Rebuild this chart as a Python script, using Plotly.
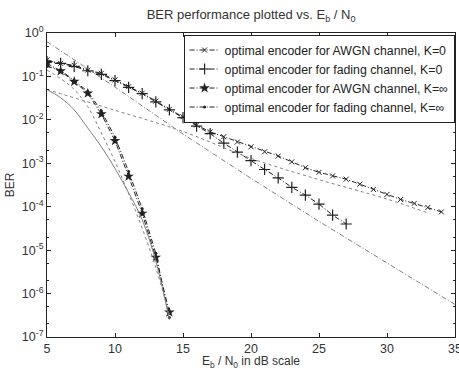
import plotly.graph_objects as go

# ---- data ----
snr_awgn_k0 = list(range(5, 35))
ber_awgn_k0 = [0.24, 0.2, 0.18, 0.14, 0.118, 0.083, 0.058, 0.041, 0.027, 0.0175,
               0.0118, 0.0076, 0.0053, 0.0041, 0.0031, 0.0024, 0.00184, 0.00147, 0.00108, 0.00079,
               0.00062, 0.00051, 0.00043, 0.00033, 0.00025, 0.000192, 0.000147, 0.000119, 0.000096, 0.000076]

snr_fad_k0 = list(range(5, 28))
ber_fad_k0 = [0.22, 0.2, 0.17, 0.135, 0.112, 0.08, 0.056, 0.04, 0.026, 0.017,
              0.0112, 0.0072, 0.0048, 0.0029, 0.0018, 0.00115, 0.00072, 0.00046, 0.00028, 0.000185,
              0.000115, 0.000064, 0.00004]

snr_inf = list(range(5, 15))
ber_awgn_kinf = [0.2, 0.133, 0.076, 0.041, 0.0136, 0.0033, 5.0e-4, 7.0e-5, 6.8e-6, 3.7e-7]
ber_fad_kinf = [0.17, 0.14, 0.08, 0.045, 0.016, 4.0e-3, 6.5e-4, 9e-5, 8.5e-6, 2.8e-7]

# reference (unlabelled) curves
snr_ref_a = [5, 10, 15, 20, 25, 30, 35]
ber_ref_a = [0.63, 0.057, 4.7e-3, 4.5e-4, 4.6e-5, 5e-6, 5.6e-7]
snr_ref_b = [5, 10, 15, 20, 25, 30, 33]
ber_ref_b = [0.05, 0.0166, 5.4e-3, 1.3e-3, 4.2e-4, 1.5e-4, 7.2e-5]
snr_ref_c = list(range(5, 15))
ber_ref_c = [0.05, 0.0324, 0.017, 0.00646, 0.0024, 7.6e-4, 2.1e-4, 5.0e-5, 5.6e-6, 2.5e-7]
snr_ref_d = list(range(5, 15))
ber_ref_d = [0.14, 0.089, 0.05, 0.02, 0.005, 1.1e-3, 2e-4, 3.2e-5, 4e-6, 3.2e-7]

legend_names = ["optimal encoder for AWGN channel, K=0",
                "optimal encoder for fading channel, K=0",
                "optimal encoder for AWGN channel, K=\u221e",
                "optimal encoder for fading channel, K=\u221e"]

ytick_vals = [1, 1e-1, 1e-2, 1e-3, 1e-4, 1e-5, 1e-6, 1e-7]
ytick_text = ["10<sup>0</sup>", "10<sup>-1</sup>", "10<sup>-2</sup>", "10<sup>-3</sup>",
              "10<sup>-4</sup>", "10<sup>-5</sup>", "10<sup>-6</sup>", "10<sup>-7</sup>"]
xtick_vals = [5, 10, 15, 20, 25, 30, 35]

FONT = "Liberation Sans, Arial, sans-serif"
ink = "#222222"
txt = "#333333"
thin = "#808080"
dd = "5px,2px,1px,2px"

fig = go.Figure()

fig.add_trace(go.Scatter(x=snr_awgn_k0, y=ber_awgn_k0, name=legend_names[0], mode="lines+markers",
                         line=dict(color=ink, width=1, dash=dd),
                         marker=dict(symbol="x-thin-open", size=5, color=ink, line=dict(width=1, color=ink))))
fig.add_trace(go.Scatter(x=snr_fad_k0, y=ber_fad_k0, name=legend_names[1], mode="lines+markers",
                         line=dict(color=ink, width=1, dash=dd),
                         marker=dict(symbol="cross-thin-open", size=8, color=ink, line=dict(width=1.2, color=ink))))
fig.add_trace(go.Scatter(x=snr_inf, y=ber_awgn_kinf, name=legend_names[2], mode="lines+markers",
                         line=dict(color=ink, width=1, dash=dd),
                         marker=dict(symbol="star", size=8, color=ink)))
fig.add_trace(go.Scatter(x=snr_inf, y=ber_fad_kinf, name=legend_names[3], mode="lines+markers",
                         line=dict(color=ink, width=1, dash=dd),
                         marker=dict(symbol="circle", size=3, color=ink)))

fig.add_trace(go.Scatter(x=snr_ref_a, y=ber_ref_a, mode="lines", showlegend=False,
                         line=dict(color=thin, width=1, dash=dd)))
fig.add_trace(go.Scatter(x=snr_ref_b, y=ber_ref_b, mode="lines", showlegend=False, line_shape="spline",
                         line=dict(color=thin, width=1, dash="dot")))
fig.add_trace(go.Scatter(x=snr_ref_c, y=ber_ref_c, mode="lines", showlegend=False, line_shape="spline",
                         line=dict(color=thin, width=1)))
fig.add_trace(go.Scatter(x=snr_ref_d, y=ber_ref_d, mode="lines", showlegend=False, line_shape="spline",
                         line=dict(color=thin, width=1, dash="dot")))

axis_common = dict(showline=True, linecolor=ink, linewidth=1, mirror="ticks", ticks="inside",
                   ticklen=4, tickcolor=ink, showgrid=False, zeroline=False, automargin=False,
                   ticklabeloverflow="allow",
                   tickfont=dict(family=FONT, size=12.5, color=txt))

fig.update_xaxes(range=[4.9999, 35.0001], tickvals=xtick_vals,
                 title=dict(text="E<sub>b</sub> / N<sub>0</sub> in dB scale", standoff=0,
                            font=dict(family=FONT, size=12, color=txt)),
                 **axis_common)
fig.update_yaxes(type="log", range=[-7, 0], tickvals=ytick_vals, ticktext=ytick_text,
                 minor=dict(ticks="inside", ticklen=2, tickcolor=ink, showgrid=False),
                 title=dict(text="BER", standoff=4, font=dict(family=FONT, size=12, color=txt)),
                 **axis_common)

fig.update_layout(
    width=459, height=370, autosize=False,
    margin=dict(l=47, r=4, t=33, b=33),
    paper_bgcolor="white", plot_bgcolor="white",
    title=dict(text="BER performance plotted vs. E<sub>b</sub> / N<sub>0</sub>", x=0.547, xanchor="center",
               y=0.96, yanchor="middle", font=dict(family=FONT, size=13, color=txt)),
    legend=dict(x=0.999, y=0.995, xanchor="right", yanchor="top", bgcolor="white",
                bordercolor=ink, borderwidth=1, tracegroupgap=0, itemwidth=30,
                font=dict(family=FONT, size=12.3, color="#222222")),
)

fig.write_html("out.html", config={"displayModeBar": False},
               post_script=["document.body.style.margin='0';"])
